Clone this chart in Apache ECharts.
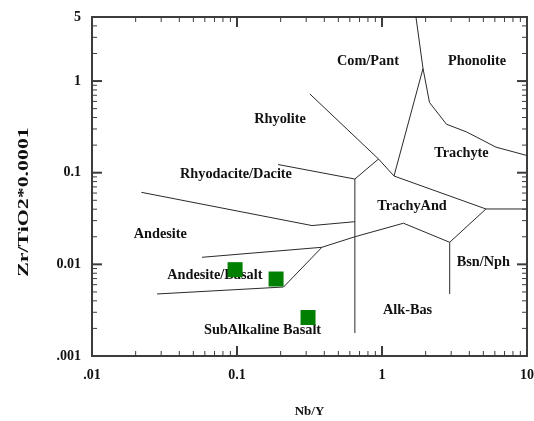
<!DOCTYPE html>
<html><head><meta charset="utf-8">
<script src="https://cdn.jsdelivr.net/npm/echarts@6/dist/echarts.min.js"></script>
<style>html,body{margin:0;padding:0;background:#fff}#c{width:534px;height:421px}</style>
</head><body><div id="c"></div>
<script>
// ---- data ----
const nbY  = [0.097, 0.186, 0.309];
const zrTi = [0.00875, 0.00692, 0.00263];

const xTickValues = [0.01, 0.1, 1, 10];
const xTickLabels = ['.01', '0.1', '1', '10'];
const yTickValues = [0.001, 0.01, 0.1, 1, 5];
const yTickLabels = ['.001', '0.01', '0.1', '1', '5'];
const xMajorTicks = [0.1, 1];
const yMajorTicks = [0.01, 0.1, 1];
const xMinorTicks = [0.02,0.03,0.04,0.05,0.06,0.07,0.08,0.09,0.2,0.3,0.4,0.5,0.6,0.7,0.8,0.9,2,3,4,5,6,7,8,9];
const yMinorTicks = [0.002,0.003,0.004,0.005,0.006,0.007,0.008,0.009,0.02,0.03,0.04,0.05,0.06,0.07,0.08,0.09,0.2,0.3,0.4,0.5,0.6,0.7,0.8,0.9,2,3,4];

// field boundaries [Nb/Y, Zr/TiO2*0.0001]
const bComPhon     = [[1.715,5],[1.918,1.371],[2.127,0.583],[2.785,0.338],[3.84,0.278],[6.11,0.19],[10,0.154]];
const bComTrachyte = [[1.918,1.371],[1.21,0.092]];
const bRhyolite    = [[0.318,0.723],[0.946,0.141],[1.21,0.092]];
const bRhyoBranch  = [[0.946,0.141],[0.65,0.0853]];
const bRhyodacite  = [[0.192,0.1228],[0.65,0.0853]];
const bVertical    = [[0.65,0.0853],[0.65,0.00178]];
const bTrachyLow   = [[1.21,0.092],[5.21,0.0402],[10,0.0402]];
const bBsnNph      = [[5.21,0.0402],[2.93,0.0174],[2.93,0.00475]];
const bAlkUpper    = [[2.93,0.0174],[1.406,0.0281],[0.65,0.02],[0.385,0.01535],[0.0574,0.01194]];
const bAndesiteUp  = [[0.0219,0.0611],[0.329,0.0265],[0.65,0.0292]];
const bDiagonal    = [[0.385,0.01535],[0.2095,0.00566]];
const bBasaltLow   = [[0.0281,0.00475],[0.2095,0.00566]];

const regionNames = ['Com/Pant','Phonolite','Rhyolite','Trachyte','Rhyodacite/Dacite','TrachyAnd','Andesite','Andesite/Basalt','Bsn/Nph','Alk-Bas','SubAlkaline Basalt'];
const regionX = [0.80, 4.52, 0.198, 3.53, 0.0984, 1.61, 0.0296, 0.0703, 5.0, 1.50, 0.150];
const regionY = [1.643, 1.656, 0.378, 0.161, 0.0961, 0.0433, 0.0213, 0.00752, 0.01053, 0.00318, 0.00192];

// ---- chart ----
const xMin = 0.01, xMax = 10, yMin = 0.001, yMax = 5;
const frameColor = '#3c3c3c';
const lineColor = '#2a2a2a';
const serif = '"Liberation Serif", "Times New Roman", serif';

function fmt(values, labels) {
  return function (v) {
    for (let i = 0; i < values.length; i++) {
      if (Math.abs(Math.log10(v) - Math.log10(values[i])) < 1e-6) return labels[i];
    }
    return '';
  };
}

const boundaries = [bComPhon,bComTrachyte,bRhyolite,bRhyoBranch,bRhyodacite,bVertical,bTrachyLow,bBsnNph,bAlkUpper,bAndesiteUp,bDiagonal,bBasaltLow];

const tickData = [];
xMajorTicks.forEach(v => tickData.push([v, yMin, 0, 1]));
xMinorTicks.forEach(v => tickData.push([v, yMin, 0, 0]));
yMajorTicks.forEach(v => tickData.push([xMin, v, 1, 1]));
yMinorTicks.forEach(v => tickData.push([xMin, v, 1, 0]));

const series = [];
boundaries.forEach(b => series.push({
  type: 'line', data: b, symbol: 'none', silent: true, animation: false,
  lineStyle: { color: lineColor, width: 1 }, z: 2
}));

series.push({
  type: 'custom', data: tickData, silent: true, animation: false, clip: false, z: 3,
  encode: { x: 0, y: 1 },
  renderItem: function (params, api) {
    const axis = api.value(2), major = api.value(3);
    const len = major ? 10 : 5;
    const style = { stroke: frameColor, lineWidth: major ? 2 : 1 };
    if (axis === 0) {
      const b = api.coord([api.value(0), yMin]);
      const t = api.coord([api.value(0), yMax]);
      return { type: 'group', children: [
        { type: 'line', shape: { x1: b[0], y1: b[1], x2: b[0], y2: b[1] - len }, style: style },
        { type: 'line', shape: { x1: t[0], y1: t[1], x2: t[0], y2: t[1] + len }, style: style }
      ]};
    } else {
      const l = api.coord([xMin, api.value(1)]);
      const r = api.coord([xMax, api.value(1)]);
      return { type: 'group', children: [
        { type: 'line', shape: { x1: l[0], y1: l[1], x2: l[0] + len, y2: l[1] }, style: style },
        { type: 'line', shape: { x1: r[0], y1: r[1], x2: r[0] - len, y2: r[1] }, style: style }
      ]};
    }
  }
});

series.push({
  type: 'custom', data: regionX.map((x, i) => [x, regionY[i]]), silent: true, animation: false, z: 4,
  encode: { x: 0, y: 1 },
  renderItem: function (params, api) {
    const p = api.coord([api.value(0), api.value(1)]);
    return { type: 'text', x: p[0], y: p[1], style: {
      text: regionNames[params.dataIndex], fill: '#111',
      font: 'bold 14.3px ' + serif, align: 'center', verticalAlign: 'middle'
    }};
  }
});

series.push({
  type: 'scatter', data: nbY.map((x, i) => [x, zrTi[i]]), symbol: 'rect', symbolSize: 15,
  itemStyle: { color: '#008000', opacity: 1 }, z: 10, animation: false
});

const chart = echarts.init(document.getElementById('c'), null, { renderer: 'canvas' });
chart.setOption({
  backgroundColor: '#ffffff',
  animation: false,
  grid: { left: 92, right: 7, top: 17, bottom: 65, outerBoundsMode: 'none', containLabel: false, show: true, borderColor: frameColor, borderWidth: 2, backgroundColor: 'transparent' },
  xAxis: {
    type: 'log', logBase: 10, min: xMin, max: xMax,
    axisLine: { show: false }, axisTick: { show: false }, splitLine: { show: false }, minorTick: { show: false },
    axisLabel: { formatter: fmt(xTickValues, xTickLabels), color: '#111', fontFamily: serif, fontWeight: 'bold', fontSize: 14, margin: 12, showMinLabel: true, showMaxLabel: true },
    name: 'Nb/Y', nameLocation: 'middle', nameGap: 49,
    nameTextStyle: { color: '#111', fontFamily: serif, fontWeight: 'bold', fontSize: 13 }
  },
  yAxis: {
    type: 'log', logBase: 10, min: yMin, max: yMax,
    axisLine: { show: false }, axisTick: { show: false }, splitLine: { show: false }, minorTick: { show: false },
    axisLabel: { formatter: fmt(yTickValues, yTickLabels), color: '#111', fontFamily: serif, fontWeight: 'bold', fontSize: 14, margin: 11, showMinLabel: true, showMaxLabel: true }
  },
  graphic: [{
    type: 'text', x: 24, y: 202, rotation: Math.PI / 2, scaleX: 1.56,
    style: { text: 'Zr/TiO2*0.0001', fill: '#111', font: 'bold 14px ' + serif, align: 'center', verticalAlign: 'middle' }
  }],
  series: series
});
</script>
</body></html>
